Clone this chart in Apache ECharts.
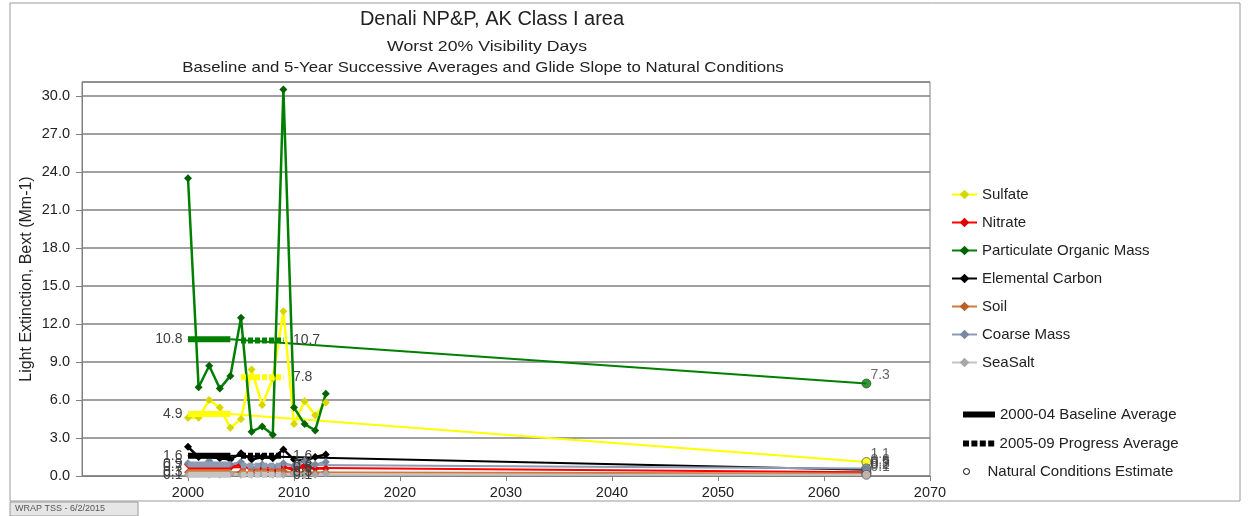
<!DOCTYPE html>
<html>
<head>
<meta charset="utf-8">
<title>Denali NP&amp;P, AK Class I area</title>
<script src="https://cdn.jsdelivr.net/npm/echarts@6/dist/echarts.min.js"></script>
<style>
  html, body { margin: 0; padding: 0; background: #fff; }
  #chart { width: 1252px; height: 516px; }
</style>
</head>
<body>
<div id="chart"></div>
<script>
// annual worst-20% values, 2000-2013
const years = [2000, 2001, 2002, 2003, 2004, 2005, 2006, 2007, 2008, 2009, 2010, 2011, 2012, 2013]
const sulfate = [4.6, 4.6, 6.0, 5.4, 3.8, 4.5, 8.4, 5.6, 7.7, 13.0, 4.1, 5.9, 4.8, 5.8]
const nitrate = [0.9, 0.6, 0.8, 0.5, 0.7, 0.9, 0.5, 0.6, 0.4, 0.7, 0.5, 0.8, 0.6, 0.6]
const organicMass = [23.5, 7.0, 8.7, 6.9, 7.9, 12.5, 3.5, 3.9, 3.25, 30.5, 5.4, 4.1, 3.6, 6.5]
const elementalCarbon = [2.3, 1.5, 1.5, 1.4, 1.3, 1.8, 1.3, 1.5, 1.4, 2.1, 1.3, 1.2, 1.5, 1.7]
const soil = [0.3, 0.2, 0.4, 0.3, 0.2, 0.3, 0.2, 0.3, 0.2, 0.4, 0.2, 0.3, 0.2, 0.3]
const coarseMass = [1.0, 0.8, 1.2, 0.7, 0.9, 1.1, 0.6, 0.9, 0.7, 1.0, 0.8, 1.2, 0.9, 1.1]
const seaSalt = [0.1, 0.2, 0.1, 0.1, 0.2, 0.1, 0.1, 0.2, 0.1, 0.1, 0.2, 0.1, 0.1, 0.2]

const speciesNames = ['Sulfate', 'Nitrate', 'Particulate Organic Mass', 'Elemental Carbon', 'Soil', 'Coarse Mass', 'SeaSalt']
const annualValues = [sulfate, nitrate, organicMass, elementalCarbon, soil, coarseMass, seaSalt]

// 5-year averages and 2064 natural conditions
const baselineYears = [2000, 2004]
const progressYears = [2005, 2009]
const naturalYear = 2064
const baselineAvg = [4.9, 0.7, 10.8, 1.6, 0.3, 0.9, 0.1]
const progressAvg = [7.8, 0.6, 10.7, 1.6, 0.3, 0.8, 0.1]
const naturalEst = [1.1, 0.3, 7.3, 0.5, 0.2, 0.6, 0.1]

const legendExtra = ['2000-04 Baseline Average', '2005-09 Progress Average', 'Natural Conditions Estimate']

const lineColors = ['#ffff00', '#ff0000', '#008000', '#000000', '#d2783c', '#8c9cb4', '#c4c4c4']
const markerColors = ['#d6d600', '#e00000', '#006400', '#000000', '#b8602c', '#7888a0', '#a8a8a8']

const FONT = 'Liberation Sans, Arial, sans-serif'

const fmt = v => v.toFixed(1)

const buildSeries = () => {
  const list = []
  const labelStyle = { color: '#404040', fontSize: 14, fontFamily: FONT }
  speciesNames.forEach((name, i) => {
    const color = lineColors[i]
    // glide slope from baseline to natural conditions
    list.push({
      name: name + ' glide',
      type: 'line',
      data: [[baselineYears[1], baselineAvg[i]], [naturalYear, naturalEst[i]]],
      symbol: 'none',
      lineStyle: { width: 2, color },
      silent: true,
      z: 2
    })
    list.push({
      name,
      type: 'line',
      data: years.map((y, k) => [y, annualValues[i][k]]),
      symbol: 'diamond',
      symbolSize: 8,
      color: markerColors[i],
      lineStyle: { width: 2.5, color },
      itemStyle: { color: markerColors[i] },
      z: 3
    })
    list.push({
      name: name + ' baseline',
      type: 'line',
      data: [
        { value: [baselineYears[0], baselineAvg[i]], label: { show: true, position: 'left', distance: 5, formatter: p => fmt(p.value[1]) } },
        [baselineYears[1], baselineAvg[i]]
      ],
      symbol: 'circle',
      symbolSize: 1,
      itemStyle: { color },
      lineStyle: { width: 6, color },
      label: labelStyle,
      silent: true,
      z: 4
    })
    list.push({
      name: name + ' progress',
      type: 'line',
      data: [
        [progressYears[0], progressAvg[i]],
        { value: [progressYears[1], progressAvg[i]], label: { show: true, position: 'right', distance: 9, formatter: p => fmt(p.value[1]) } }
      ],
      symbol: 'circle',
      symbolSize: 1,
      itemStyle: { color },
      lineStyle: { width: 6, color, type: [5, 2], cap: 'butt' },
      label: labelStyle,
      silent: true,
      z: 4
    })
    list.push({
      name: name + ' natural',
      type: 'scatter',
      data: [[naturalYear, naturalEst[i]]],
      symbol: 'circle',
      symbolSize: 9,
      itemStyle: { color, borderColor: '#4d4d4d', borderWidth: 1 },
      label: Object.assign({ show: true, position: 'right', offset: [-6, -8], formatter: p => fmt(p.value[1]) }, labelStyle),
      silent: true,
      z: 5
    })
  })
  // legend-only entries
  list.push({ name: legendExtra[0], type: 'line', data: [], color: '#000' })
  list.push({ name: legendExtra[1], type: 'line', data: [], color: '#000' })
  list.push({ name: legendExtra[2], type: 'line', data: [], color: '#000' })
  return list
}

const drawChart = () => {
  const chart = echarts.init(document.getElementById('chart'))
  const legendText = { color: '#222', fontSize: 15, fontFamily: FONT }
  const option = {
    animation: false,
    backgroundColor: '#fff',
    graphic: [
      { type: 'rect', shape: { x: 10, y: 3, width: 1230, height: 498 }, style: { fill: 'none', stroke: '#9a9a9a', lineWidth: 1 } },
      { type: 'rect', shape: { x: 10, y: 502, width: 128, height: 14 }, style: { fill: '#e6e6e6', stroke: '#9a9a9a', lineWidth: 1 } },
      { type: 'text', x: 15, y: 504, style: { text: 'WRAP TSS - 6/2/2015', fill: '#555', fontSize: 9, fontFamily: FONT } },
      { type: 'text', x: 492, y: 19, style: { text: 'Denali NP&P, AK Class I area', fill: '#222', fontSize: 20, fontFamily: FONT, textAlign: 'center', textVerticalAlign: 'middle' } },
      { type: 'text', x: 487, y: 47, scaleX: 1.18, style: { text: 'Worst 20% Visibility Days', fill: '#222', fontSize: 15, fontFamily: FONT, textAlign: 'center', textVerticalAlign: 'middle' } },
      { type: 'text', x: 483, y: 68, scaleX: 1.12, style: { text: 'Baseline and 5-Year Successive Averages and Glide Slope to Natural Conditions', fill: '#222', fontSize: 15, fontFamily: FONT, textAlign: 'center', textVerticalAlign: 'middle' } }
    ],
    legend: [
      {
        data: speciesNames,
        orient: 'vertical',
        left: 946,
        top: 182,
        itemWidth: 25,
        itemHeight: 12,
        itemGap: 13,
        textStyle: legendText,
        selectedMode: false
      },
      {
        data: [{ name: legendExtra[0], icon: 'rect' }],
        left: 958, top: 402, itemWidth: 32, itemHeight: 6, textStyle: legendText, selectedMode: false
      },
      {
        data: [{ name: legendExtra[1], icon: 'path://M0,0h5v5h-5z M7,0h5v5h-5z M14,0h5v5h-5z M21,0h5v5h-5z' }],
        left: 958, top: 431, itemWidth: 32, itemHeight: 6, textStyle: legendText, selectedMode: false
      },
      {
        data: [{ name: legendExtra[2], icon: 'circle', itemStyle: { color: '#fff', borderColor: '#000', borderWidth: 1 } }],
        left: 958, top: 459, itemWidth: 32, itemHeight: 6, textStyle: legendText, selectedMode: false
      }
    ],
    grid: {
      left: 82,
      right: 322,
      top: 82,
      bottom: 40,
      show: true,
      borderColor: '#808080',
      borderWidth: 1
    },
    xAxis: {
      type: 'value',
      min: 1990,
      max: 2070,
      interval: 10,
      axisLine: { lineStyle: { color: '#808080' } },
      axisTick: { lineStyle: { color: '#808080' } },
      axisLabel: { showMinLabel: false, color: '#222', fontSize: 14.5, fontFamily: FONT, margin: 9, formatter: v => String(v) },
      splitLine: { show: false }
    },
    yAxis: {
      type: 'value',
      min: 0,
      max: 31.1,
      interval: 3,
      name: 'Light Extinction, Bext (Mm-1)',
      nameLocation: 'middle',
      nameGap: 47,
      nameMoveOverlap: false,
      nameTextStyle: { color: '#222', fontSize: 16, fontFamily: FONT },
      axisLine: { show: true, lineStyle: { color: '#808080' } },
      axisTick: { show: true, length: 6, lineStyle: { color: '#808080' } },
      axisLabel: {
        showMaxLabel: false,
        color: '#222',
        fontSize: 14.5,
        fontFamily: FONT,
        margin: 12,
        formatter: v => fmt(v)
      },
      splitLine: { lineStyle: { color: '#808080', width: 1.5 } }
    },
    series: buildSeries()
  }
  chart.setOption(option)
}

drawChart()
</script>
</body>
</html>
